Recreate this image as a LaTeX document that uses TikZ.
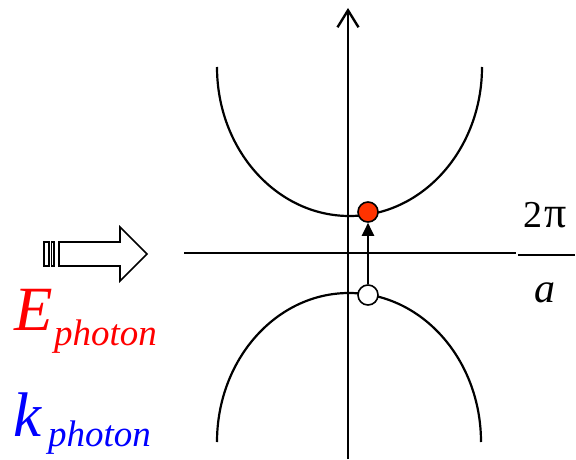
\documentclass[tikz,border=0pt]{standalone}
\usepackage{fontspec}
\newfontfamily\timesfont{Liberation Serif}
\usepackage{xcolor}
\usetikzlibrary{arrows.meta, positioning}
\definecolor{dotred}{RGB}{255,51,0}
\newcommand{\bigit}[1]{{\timesfont\fontsize{63}{63}\selectfont\itshape #1}}
\newcommand{\subit}[1]{{\timesfont\fontsize{37}{37}\selectfont\itshape #1}}
\tikzset{
  band/.style={line width=2.2pt},
  state/.style={circle, draw, line width=1.6pt, minimum size=20pt, inner sep=0pt},
  lbl/.style={inner sep=0pt, anchor=base west},
  fractxt/.style={inner sep=0pt, anchor=base}
}

\begin{document}
\begin{tikzpicture}[x=1pt, y=1pt]
\useasboundingbox (0,0) rectangle (576,459);

% Axes
\coordinate (ybot) at (348,0);
\coordinate (ytop) at (348,451);
\coordinate (xl) at (184,206);
\coordinate (xr) at (516,206);
\draw[line width=2.4pt, -{Straight Barb[length=17pt, width=21pt, line width=2.4pt]}] (ybot) -- (ytop);
\draw[line width=2.6pt] (xl) -- (xr);

% Bands
\draw[band] (217,392) arc[start angle=180, end angle=360, x radius=132.5, y radius=149];
\draw[band] (217,17) arc[start angle=180, end angle=0, x radius=132, y radius=149];

% Electron and hole
\node[state, fill=dotred] (cb) at (368,247) {};
\node[state, fill=white] (vb) at (368,164) {};
\draw[line width=2pt, -{Triangle[length=13pt, width=12pt]}] (vb) -- (cb);

% Zone edge 2pi/a
\node[fractxt] (num) at (545,232) {\timesfont\fontsize{38}{38}\selectfont 2\kern2pt{\fontsize{44}{44}\selectfont π}};
\node[fractxt] (den) at (545,157) {\timesfont\fontsize{42}{42}\selectfont\itshape a};
\coordinate (fl) at (518,204);
\coordinate (fr) at (575,204);
\draw[line width=1.8pt] (fl) -- (fr);

% Striped block arrow
\draw[line width=1.6pt, line join=miter] (59,217) -- (120,217) -- (120,232) -- (147,205)
  -- (120,178) -- (120,193) -- (59,193) -- cycle;
\draw[line width=1.6pt] (44,193) rectangle (49,217);
\draw[line width=1.6pt] (51.5,193) rectangle (54,217);

% Photon labels
\node[lbl, red] (E) at (14,129) {\bigit{E}};
\node[lbl, red] (Esub) at (54,114) {\subit{photon}};
\node[lbl, blue] (k) at (13,23) {\bigit{k}};
\node[lbl, blue] (ksub) at (48,13) {\subit{photon}};

\end{tikzpicture}
\end{document}
